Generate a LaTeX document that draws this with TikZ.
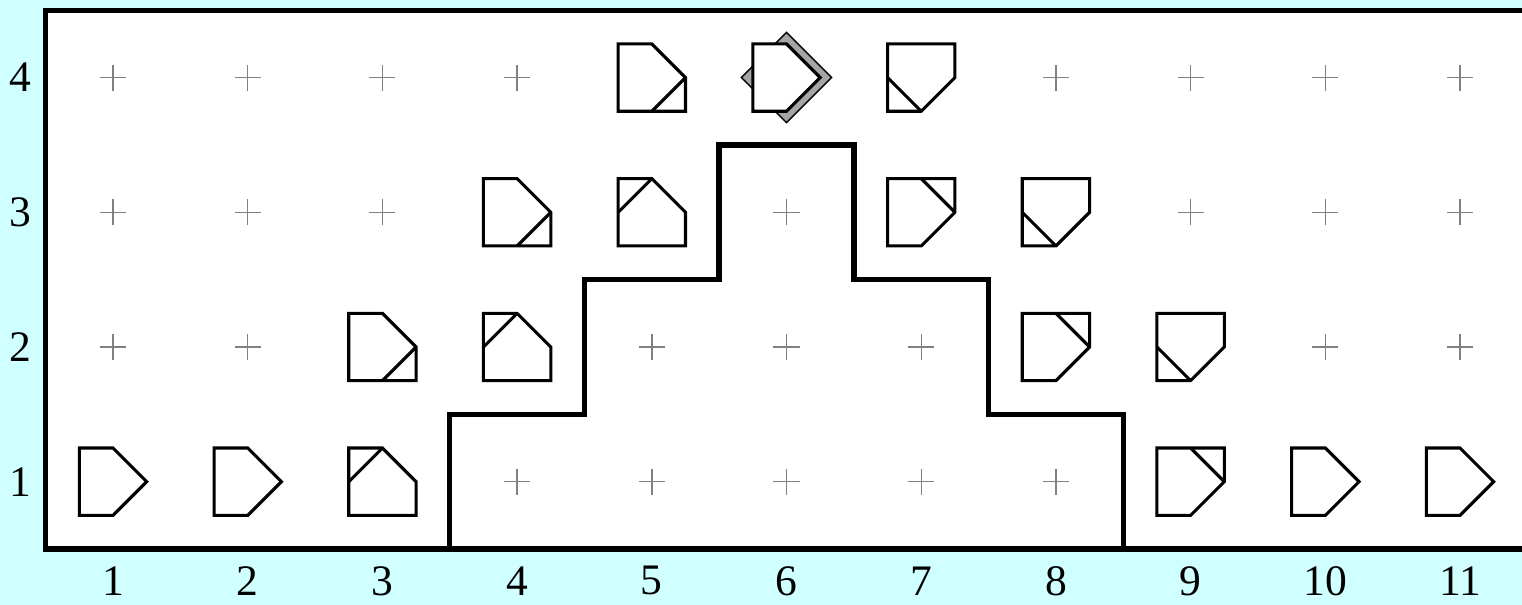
\documentclass[tikz,border=0pt]{standalone}
\usepackage{fontspec}
\setmainfont{Liberation Serif}
\definecolor{paneback}{RGB}{208,255,255}
\definecolor{markgray}{RGB}{128,128,128}
\definecolor{shadowgray}{RGB}{165,165,165}
\newcommand{\hs}{0.25}
\tikzset{
  tileline/.style={line width=0.65pt, fill=white, line join=miter},
  wall/.style={line width=1.15pt, line join=miter},
  gridmark/.style={draw=markgray, line width=0.3pt},
  axislabel/.style={font=\fontsize{9.2}{10}\selectfont, inner sep=0pt},
  % plain pentagon pointing right
  piece/.pic={
    \draw[tileline] (-\hs,\hs) -- (0,\hs) -- (\hs,0) -- (0,-\hs) -- (-\hs,-\hs) -- cycle;
  },
  % pentagon with the lower-right corner of its square kept
  piece lo/.pic={
    \draw[tileline] (-\hs,\hs) -- (0,\hs) -- (\hs,0) -- (\hs,-\hs) -- (-\hs,-\hs) -- cycle;
    \draw[tileline] (\hs,0) -- (0,-\hs);
  },
  % pentagon with the upper-right corner of its square kept
  piece hi/.pic={
    \draw[tileline] (-\hs,\hs) -- (\hs,\hs) -- (\hs,0) -- (0,-\hs) -- (-\hs,-\hs) -- cycle;
    \draw[tileline] (0,\hs) -- (\hs,0);
  },
}
\begin{document}
\begin{tikzpicture}[x=1cm,y=1cm]
  \useasboundingbox (0.161,0.0855) rectangle (11.46,4.576);
  \clip (0.161,0.0855) rectangle (11.46,4.576);
  \fill[paneback] (0.161,0.0855) rectangle (11.46,4.576);

  % board
  \draw[wall, fill=white] (0.5,0.5) rectangle (12,4.5);

  % stepped boundary
  \draw[wall] (3.5,0.5) -- (3.5,1.5) -- (4.5,1.5) -- (4.5,2.5) -- (5.5,2.5)
    -- (5.5,3.5) -- (6.5,3.5) -- (6.5,2.5) -- (7.5,2.5) -- (7.5,1.5)
    -- (8.5,1.5) -- (8.5,0.5);

  % empty grid points
  \foreach \px/\py in {1/4,2/4,3/4,4/4,8/4,9/4,10/4,11/4,
                       1/3,2/3,3/3,6/3,9/3,10/3,11/3,
                       1/2,2/2,5/2,6/2,7/2,10/2,11/2,
                       4/1,5/1,6/1,7/1,8/1}
    \draw[gridmark] (\px-0.097,\py) -- (\px+0.097,\py)
                    (\px,\py-0.097) -- (\px,\py+0.097);

  % row 1
  \pic (p11) at (1,1) {piece};
  \pic (p21) at (2,1) {piece};
  \pic[rotate=90] (p31) at (3,1) {piece hi};
  \pic (p91) at (9,1) {piece hi};
  \pic (p101) at (10,1) {piece};
  \pic (p111) at (11,1) {piece};
  % row 2
  \pic (p32) at (3,2) {piece lo};
  \pic[rotate=90] (p42) at (4,2) {piece hi};
  \pic (p82) at (8,2) {piece hi};
  \pic[rotate=-90] (p92) at (9,2) {piece lo};
  % row 3
  \pic (p43) at (4,3) {piece lo};
  \pic[rotate=90] (p53) at (5,3) {piece hi};
  \pic (p73) at (7,3) {piece hi};
  \pic[rotate=-90] (p83) at (8,3) {piece lo};
  % row 4
  \pic (p54) at (5,4) {piece lo};
  \draw[line width=0.3pt, fill=shadowgray]
    (6,4.335) -- (6.335,4) -- (6,3.665) -- (5.665,4) -- cycle;
  \pic (p64) at (6,4) {piece};
  \pic[rotate=-90] (p74) at (7,4) {piece lo};

  % axis labels
  \foreach \k in {1,...,11}
    \node[axislabel] (xl\k) at (\k,0.264) {\k};
  \foreach \k in {1,...,4}
    \node[axislabel] (yl\k) at (0.31,\k) {\k};
\end{tikzpicture}
\end{document}
